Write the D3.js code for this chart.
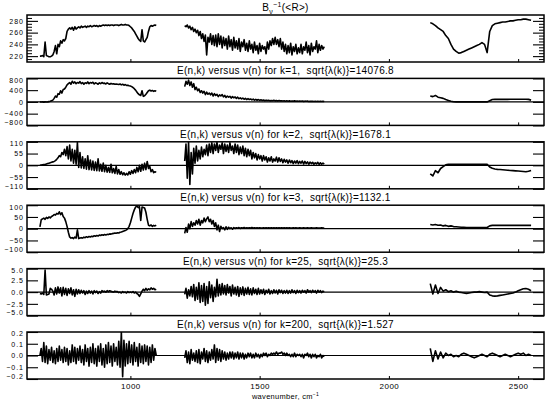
<!DOCTYPE html>
<html>
<head>
<meta charset="utf-8">
<script src="https://cdn.jsdelivr.net/npm/d3@7"></script>
<style>
  body { margin: 0; background: #fff; }
  text { font-family: "Liberation Sans", Arial, Helvetica, sans-serif; fill: #000; }
</style>
</head>
<body>
<svg id="chart" width="550" height="405"></svg>
<script>
// ---- Data ----
// three spectral bands, each sampled from its start wavenumber at a fixed spacing
var segStart = [650, 1210, 2160];
var segStep = [5, 5, 10];

var xDomain = [600, 2600];
var xTicks = [1000, 1500, 2000, 2500];

// panel 1: B_nu^-1(<R>)
var btA = [220, 220, 221, 219, 244, 221, 220, 219, 219, 220,
  222, 228, 238, 224, 240, 236, 246, 242, 248, 246,
  250, 262, 266, 268, 266, 269, 264, 270, 266, 268,
  270, 268, 271, 269, 270, 271, 269, 271, 270, 272,
  270, 271, 272, 271, 272, 270, 272, 271, 272, 273,
  272, 273, 272, 273, 272, 273, 273, 272, 273, 273,
  273, 272, 273, 274, 273, 273, 274, 273, 273, 272,
  270, 268, 265, 262, 258, 254, 250, 247, 245, 265,
  246, 244, 248, 252, 262, 270, 272, 271, 272, 273,
  272];
var btB = [272, 270, 273, 268, 271, 265, 269, 262, 266, 260,
  264, 255, 262, 250, 258, 245, 256, 222, 252, 244,
  258, 240, 255, 238, 256, 236, 258, 240, 254, 234,
  252, 238, 250, 232, 254, 236, 248, 230, 252, 234,
  246, 232, 250, 228, 244, 236, 248, 230, 242, 228,
  246, 232, 240, 226, 244, 230, 238, 224, 242, 228,
  238, 232, 236, 224, 244, 232, 246, 238, 250, 240,
  252, 240, 248, 236, 250, 232, 244, 228, 240, 224,
  238, 226, 242, 222, 236, 228, 240, 224, 234, 226,
  240, 224, 236, 230, 244, 226, 238, 222, 242, 228,
  236, 232, 246, 226, 240, 230, 238, 232, 236];
var btC = [277, 275, 272, 268, 265, 262, 255, 250, 240, 232,
  228, 225, 226, 228, 230, 232, 234, 236, 238, 240,
  243, 240, 226, 262, 272, 275, 276, 277, 278, 278,
  279, 280, 280, 281, 282, 282, 283, 283, 282, 281];

// panel 2: k=1
var e1A = [0, -5, 0, -8, 0, -5, 0, 10, 20, 40,
  60, 120, 200, 160, 280, 260, 380, 300, 420, 440,
  500, 580, 620, 660, 600, 700, 640, 680, 620, 660,
  640, 690, 620, 660, 600, 650, 630, 680, 620, 660,
  640, 670, 610, 650, 630, 600, 650, 620, 660, 630,
  640, 610, 650, 620, 600, 630, 610, 620, 600, 610,
  600, 590, 610, 580, 600, 570, 590, 560, 570, 550,
  540, 520, 490, 450, 400, 340, 280, 240, 220, 380,
  190, 210, 260, 320, 380, 400, 370, 390, 360, 380,
  360];
var e1B = [520, 700, 600, 740, 560, 680, 500, 620, 420, 500,
  380, 440, 320, 380, 300, 360, 250, 330, 260, 300,
  240, 300, 200, 280, 220, 260, 180, 240, 200, 250,
  170, 220, 150, 200, 160, 190, 130, 180, 140, 170,
  120, 160, 110, 140, 100, 130, 90, 120, 80, 110,
  80, 100, 70, 95, 60, 85, 55, 80, 50, 70,
  50, 65, 40, 60, 45, 55, 35, 50, 40, 55,
  35, 50, 30, 45, 35, 40, 30, 40, 25, 40,
  25, 35, 20, 30, 25, 35, 20, 30, 20, 28,
  20, 28, 18, 25, 20, 26, 16, 24, 18, 22,
  16, 22, 14, 20, 15, 20, 12, 18, 15];
var e1C = [200, 180, 220, 160, 140, 120, 80, 50, 20, 5,
  0, 0, 0, 0, 0, 0, 0, 0, 0, 0,
  0, 0, 0, 40, 80, 85, 85, 90, 85, 88,
  85, 90, 88, 90, 88, 90, 88, 90, 86, 60];

// panel 3: k=2
var e2A = [0, 1, 2, 3, 4, 6, 8, 10, 12, 14,
  16, 18, 22, 28, 35, 45, 40, 60, 50, 75,
  45, 88, 30, 95, 20, 75, 10, 70, 5, 108,
  -10, 60, -12, 40, -15, 30, -18, 45, -20, 25,
  -22, 20, -24, 15, -25, 30, -26, 5, -28, 10,
  -30, 0, -32, -10, -33, 5, -35, -15, -38, -5,
  -40, -20, -42, -30, -44, -35, -46, -38, -45, -30,
  -42, -25, -38, -20, -35, -10, -30, 0, -28, 5,
  -22, 10, -20, 18, -15, -5, -30, -20, -34, -30,
  -32];
var e2B = [20, 100, -60, 110, -90, 60, -40, 80, 10, 90,
  20, 70, 30, 85, 40, 75, 50, 95, 45, 100,
  60, 105, 55, 100, 70, 108, 60, 95, 75, 105,
  55, 100, 65, 95, 60, 105, 70, 90, 55, 100,
  60, 95, 50, 85, 55, 90, 45, 80, 40, 75,
  45, 70, 30, 60, 35, 55, 25, 50, 30, 45,
  20, 45, 25, 40, 15, 35, 20, 40, 15, 30,
  20, 38, 15, 35, 18, 30, 12, 28, 15, 25,
  10, 25, 12, 22, 8, 20, 10, 22, 8, 18,
  10, 20, 6, 18, 8, 16, 5, 15, 8, 14,
  5, 12, 6, 14, 4, 12, 5, 10, 6];
var e2C = [-40, -50, -25, -35, -15, -6, 2, 5, 5, 5,
  5, 5, 5, 5, 5, 5, 5, 5, 5, 5,
  5, 5, 5, -8, -14, -17, -19, -20, -21, -22,
  -23, -24, -25, -26, -27, -28, -29, -30, -28, -24];

// panel 4: k=3
var e3A = [8, 38, 42, 45, 40, 48, 44, 50, 46, 52,
  55, 60, 58, 65, 62, 72, 60, 68, 52, 45,
  30, 10, -15, -35, -40, -38, -42, -36, -40, -5,
  -42, -40, -38, -40, -36, -38, -34, -37, -33, -35,
  -32, -34, -30, -32, -29, -31, -27, -29, -26, -28,
  -25, -27, -24, -25, -22, -23, -21, -20, -18, -19,
  -17, -18, -15, -14, -12, -10, -8, -5, 0, 10,
  25, 45, 65, 80, 92, 96, 90, 94, 35, 92,
  90, 88, 70, 40, 15, 12, 16, 10, 14, 12,
  15];
var e3B = [-20, 5, -15, 20, 0, 30, 10, 25, 15, 35,
  20, 40, 15, 35, 25, 45, 30, 42, 50, 30,
  40, 20, 35, 10, 25, -5, 15, -12, 10, 0,
  5, -5, 8, -3, 6, 0, 4, -2, 5, 1,
  4, 2, 5, 1, 4, 3, 5, 2, 4, 3,
  4, 3, 5, 3, 4, 3, 4, 3, 4, 3,
  3, 4, 3, 4, 3, 4, 3, 4, 3, 4,
  3, 4, 3, 4, 3, 4, 3, 4, 3, 4,
  3, 4, 3, 3, 4, 3, 4, 3, 3, 4,
  3, 3, 4, 3, 3, 4, 3, 3, 4, 3,
  3, 3, 4, 3, 3, 3, 4, 3, 3];
var e3C = [18, 16, 18, 15, 16, 12, 14, 10, 12, 9,
  8, 7, 6, 6, 5, 5, 5, 5, 5, 5,
  5, 5, 5, 12, 14, 14, 14, 14, 14, 14,
  14, 14, 14, 14, 14, 14, 14, 14, 14, 14];

// panel 5: k=25
var e25A = [-0.3, -0.4, -0.2, -0.5, 4.7, -0.6, -0.5, -0.4, 0.8, 0.6,
  0.2, -0.6, 0.9, -0.4, 1.1, -0.2, 0.9, -0.8, 1.0, -0.5,
  0.8, -0.7, 0.7, -0.3, 0.9, -0.6, 0.5, -0.9, 0.6, -0.4,
  0.5, -0.3, 0.4, -0.2, 0.3, -0.5, 0.2, -0.3, 0.3, -0.2,
  0.2, -0.4, 0.3, -0.1, 0.2, -0.3, 0.1, -0.2, 0.3, 0.1,
  0.2, 0.0, 0.3, 0.1, 0.3, 0.2, 0.1, 0.0, 0.2, 0.1,
  0.1, -0.1, 0.0, -0.2, 0.1, -0.1, 0.0, -0.2, 0.1, -0.1,
  0.0, -0.1, 0.1, -0.2, 0.0, -0.3, -0.5, -0.9, -0.4, 0.2,
  0.6, 0.3, 0.8, 0.4, 0.7, 0.5, 0.9, 0.6, 0.8, 0.5,
  0.6];
var e25B = [-0.5, 0.8, -1.3, 0.5, -0.8, 1.2, -1.0, 1.6, -1.8, 1.0,
  -1.5, 2.0, -2.2, 1.4, -2.0, 1.8, -2.8, 1.2, -2.4, 2.2,
  -1.2, 1.5, -2.0, 1.0, -1.0, 2.7, -0.8, 1.6, -0.6, 1.8,
  -0.4, 1.4, -0.6, 1.6, -0.2, 1.2, -0.8, 1.5, -0.4, 1.0,
  -0.6, 1.2, -0.9, 0.9, -0.5, 1.1, -0.7, 0.8, -0.4, 1.0,
  -0.5, 0.7, -0.6, 0.9, -0.3, 0.6, -0.5, 0.8, -0.4, 0.5,
  -0.3, 0.6, -0.5, 0.4, -0.2, 0.6, -0.4, 0.3, -0.3, 0.5,
  -0.2, 0.4, -0.4, 0.5, -0.1, 0.4, -0.3, 0.3, -0.2, 0.4,
  -0.3, 0.3, -0.2, 0.5, -0.1, 0.3, -0.3, 0.4, -0.1, 0.3,
  -0.2, 0.4, 0.0, 0.3, -0.2, 0.5, 0.0, 0.3, -0.1, 0.4,
  0.0, 0.3, -0.2, 0.4, 0.0, 0.3, -0.1, 0.2, 0.1];
var e25C = [1.8, -0.4, 1.5, -0.3, 1.0, 0.2, 0.5, 0.1, 0.3, 0.0,
  0.2, 0.0, -0.1, -0.2, -0.3, -0.2, -0.1, 0.0, 0.0, 0.1,
  0.0, -0.1, 0.0, -0.6, -0.8, -0.85, -0.8, -0.7, -0.6, -0.5,
  -0.4, -0.3, -0.2, 0.0, 0.3, 0.5, 0.7, 0.75, 0.6, 0.3];

// panel 6: k=200
var e200A = [0.00, 0.06, -0.05, 0.11, -0.06, 0.08, -0.07, 0.05, -0.04, 0.07,
  -0.06, 0.04, -0.07, 0.06, -0.05, 0.08, -0.04, 0.05, -0.06, 0.07,
  -0.05, 0.06, -0.08, 0.04, -0.06, 0.09, -0.05, 0.07, -0.07, 0.06,
  -0.04, 0.08, -0.06, 0.05, -0.08, 0.09, -0.05, 0.06, -0.09, 0.07,
  -0.06, 0.10, -0.07, 0.06, -0.09, 0.08, -0.05, 0.10, -0.08, 0.06,
  -0.10, 0.09, -0.07, 0.11, -0.06, 0.08, -0.09, 0.10, -0.05, 0.07,
  -0.08, 0.12, -0.10, 0.20, -0.18, 0.13, -0.09, 0.10, -0.07, 0.12,
  -0.06, 0.09, -0.08, 0.11, -0.05, 0.07, -0.09, 0.10, -0.06, 0.08,
  -0.07, 0.09, -0.05, 0.08, -0.08, 0.07, -0.06, 0.09, -0.04, 0.06,
  0.00];
var e200B = [-0.02, 0.04, -0.06, 0.03, -0.07, 0.05, -0.04, 0.02, -0.05, 0.04,
  -0.06, 0.05, -0.07, 0.03, -0.03, 0.06, -0.05, 0.04, -0.06, 0.03,
  -0.04, 0.05, -0.03, 0.09, -0.06, 0.06, -0.04, 0.05, -0.05, 0.04,
  -0.03, 0.03, -0.04, 0.02, -0.03, 0.03, -0.02, 0.03, -0.03, 0.02,
  -0.02, 0.03, -0.03, 0.02, -0.02, 0.02, -0.03, 0.01, -0.02, 0.02,
  -0.01, 0.02, -0.02, 0.01, -0.02, 0.02, -0.01, 0.01, -0.02, 0.01,
  -0.01, 0.02, 0.00, 0.02, -0.01, 0.01, 0.00, 0.02, 0.01, 0.02,
  0.01, 0.03, 0.01, 0.02, 0.02, 0.03, 0.01, 0.02, 0.00, 0.02,
  0.00, 0.01, -0.01, 0.01, -0.01, 0.02, -0.01, 0.01, 0.00, 0.01,
  -0.01, 0.01, -0.02, 0.01, 0.00, 0.02, -0.01, 0.01, -0.02, 0.01,
  -0.01, 0.01, -0.02, 0.00, -0.01, 0.01, -0.02, 0.00, -0.01];
var e200C = [0.06, -0.05, 0.04, -0.03, 0.03, -0.02, 0.02, 0.00, 0.01, -0.01,
  0.00, -0.01, 0.01, 0.02, 0.01, 0.00, -0.01, -0.02, -0.01, 0.00,
  0.01, 0.00, -0.01, 0.01, 0.02, 0.01, 0.00, -0.01, 0.00, 0.01,
  0.00, -0.01, 0.00, 0.01, 0.02, 0.01, 0.02, 0.00, 0.01, 0.00];

var panelSeries = [
  [btA, btB, btC],
  [e1A, e1B, e1C],
  [e2A, e2B, e2C],
  [e3A, e3B, e3C],
  [e25A, e25B, e25C],
  [e200A, e200B, e200C]
];

var yDomains = [[210, 290], [-800, 800], [-110, 110], [-100, 100], [-5, 5], [-0.2, 0.2]];
var yTicks = [
  [220, 240, 260, 280],
  [-800, -400, 0, 400, 800],
  [-110, -55, 0, 55, 110],
  [-100, -50, 0, 50, 100],
  [-5, -2.5, 0, 2.5, 5],
  [-0.2, -0.1, 0, 0.1, 0.2]
];
var yTickLabels = [
  ["220", "240", "260", "280"],
  ["\u2212800", "\u2212400", "0", "400", "800"],
  ["\u2212110", "\u221255", "0", "55", "110"],
  ["\u2212100", "\u221250", "0", "50", "100"],
  ["\u22125.0", "\u22122.5", "0.0", "2.5", "5.0"],
  ["\u22120.2", "\u22120.1", "0.0", "0.1", "0.2"]
];
var kValues = [1, 2, 3, 25, 200];
var sqrtLambda = ["14076.8", "1678.1", "1132.1", "25.3", "1.527"];

// ---- Layout ----
var width = 550, height = 405;
var margin = { top: 15, left: 27, right: 6 };
var panelH = 47;
var panelPitch = 63.4;
var midX = (margin.left + width - margin.right) / 2;

var svg = d3.select("#chart");

var x = d3.scaleLinear()
  .domain(xDomain)
  .range([margin.left, width - margin.right]);

var defs = svg.append("defs");

panelSeries.forEach(function(series, i) {
  var top = margin.top + i * panelPitch;
  var bottom = top + panelH;
  var y = d3.scaleLinear().domain(yDomains[i]).range([bottom, top]);

  var clipId = "clip" + i;
  defs.append("clipPath").attr("id", clipId)
    .append("rect")
    .attr("x", margin.left).attr("y", top)
    .attr("width", width - margin.right - margin.left).attr("height", panelH);

  var panel = svg.append("g");

  // zero line
  if (i > 0) {
    panel.append("line")
      .attr("x1", margin.left).attr("x2", width - margin.right)
      .attr("y1", y(0)).attr("y2", y(0))
      .attr("stroke", "#000").attr("stroke-width", 1.2);
  }

  // spectrum segments
  var line = d3.line()
    .x(function(d) { return x(d[0]); })
    .y(function(d) { return y(d[1]); });

  series.forEach(function(vals, s) {
    var pts = vals.map(function(v, j) { return [segStart[s] + j * segStep[s], v]; });
    panel.append("path")
      .datum(pts)
      .attr("clip-path", "url(#" + clipId + ")")
      .attr("fill", "none")
      .attr("stroke", "#000")
      .attr("stroke-width", 1.6)
      .attr("stroke-linejoin", "round")
      .attr("d", line);
  });

  // left axis with labels
  var labels = yTickLabels[i];
  var yMin = yDomains[i][0], yMax = yDomains[i][1];
  var leftAxis = d3.axisLeft(y)
    .tickValues(yTicks[i])
    .tickSize(-11)
    .tickPadding(3)
    .tickFormat(function(d, j) { return labels[j]; });
  var gl = panel.append("g")
    .attr("transform", "translate(" + margin.left + ",0)")
    .call(leftAxis);
  gl.select(".domain").remove();
  gl.selectAll(".tick line").attr("stroke", "#000").attr("stroke-width", 1.1);
  gl.selectAll(".tick text")
    .attr("x", -3)
    .style("font-size", "7px")
    .style("letter-spacing", "1px")
    .style("font-family", "'Liberation Sans', Arial, sans-serif")
    .attr("transform", function(d) {
      if (d === yMax) return "translate(0,1.7)";
      if (d === yMin) return "translate(0,-3)";
      return null;
    });

  // right axis, ticks only
  var gr = panel.append("g")
    .attr("transform", "translate(" + (width - margin.right) + ",0)")
    .call(d3.axisRight(y).tickValues(yTicks[i]).tickSize(-11).tickFormat(""));
  gr.select(".domain").remove();
  gr.selectAll(".tick line").attr("stroke", "#000").attr("stroke-width", 1.1);

  // minor ticks on the first panel
  if (i === 0) {
    var minor = d3.range(yMin + 5, yMax, 5).filter(function(v) { return yTicks[0].indexOf(v) < 0; });
    [[d3.axisLeft, margin.left], [d3.axisRight, width - margin.right]].forEach(function(a) {
      var gm = panel.append("g")
        .attr("transform", "translate(" + a[1] + ",0)")
        .call(a[0](y).tickValues(minor).tickSize(-5).tickFormat(""));
      gm.select(".domain").remove();
      gm.selectAll(".tick line").attr("stroke", "#000").attr("stroke-width", 1);
    });
  }

  // bottom x ticks
  var last = i === panelSeries.length - 1;
  var gb = panel.append("g")
    .attr("transform", "translate(0," + bottom + ")")
    .call(d3.axisBottom(x).tickValues(xTicks).tickSize(-3).tickPadding(4.5)
      .tickFormat(last ? d3.format("d") : ""));
  gb.select(".domain").remove();
  gb.selectAll(".tick line").attr("stroke", "#000");
  gb.selectAll(".tick text")
    .style("font-size", "8px")
    .style("letter-spacing", "0.5px")
    .style("font-family", "'Liberation Sans', Arial, sans-serif");

  // frame
  panel.append("rect")
    .attr("x", margin.left).attr("y", top)
    .attr("width", width - margin.right - margin.left).attr("height", panelH)
    .attr("fill", "none").attr("stroke", "#000").attr("stroke-width", 1.5);

  // title
  var t = svg.append("text")
    .attr("x", midX)
    .attr("y", top - 4)
    .attr("text-anchor", "middle")
    .style("font-size", "10px")
    .style("letter-spacing", "0.3px")
    .style("white-space", "pre");
  if (i === 0) {
    t.append("tspan").text("B");
    t.append("tspan").attr("dy", 2.5).style("font-size", "7px").text("\u03bd");
    t.append("tspan").attr("dy", -6.5).style("font-size", "7px").text("\u22121");
    t.append("tspan").attr("dy", 4).text("(<R>)");
  } else {
    t.text("E(n,k) versus \u03bd(n) for k=" + kValues[i - 1] + ",  sqrt{\u03bb(k)}=" + sqrtLambda[i - 1]);
  }
});

// x axis title
var xl = svg.append("text")
  .attr("x", midX)
  .attr("y", 399)
  .attr("text-anchor", "middle")
  .style("font-size", "7.5px")
  .style("letter-spacing", "0.3px");
xl.append("tspan").text("wavenumber, cm");
xl.append("tspan").attr("dy", -3).style("font-size", "5px").text("\u22121");
</script>
</body>
</html>
